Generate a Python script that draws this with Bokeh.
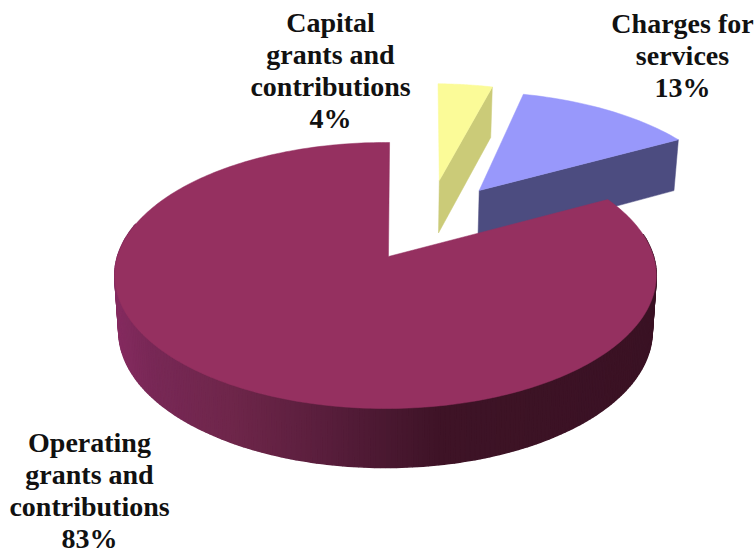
import math

from bokeh.core.properties import value
from bokeh.embed import file_html
from bokeh.models import ColumnDataSource, Range1d
from bokeh.plotting import figure
from bokeh.resources import INLINE

# Revenue shares, clockwise from twelve o'clock
categories = ["Capital grants and contributions", "Charges for services", "Operating grants and contributions"]
shares = [4, 13, 83]
label_lines = [
    ["Capital", "grants and", "contributions", "4%"],
    ["Charges for", "services", "13%"],
    ["Operating", "grants and", "contributions", "83%"],
]

# Styling of each slice: top face, cut face
top_colors = ["#fbfb98", "#9898fb", "#953060"]
cut_colors = ["#cbcb78", "#4c4c80", "#6b2347"]

# Position of each slice's arc centre on the pie plane, in pie radii, and its angular nudge in degrees
slice_offsets = [(0.219, 0.636), (0.377, 0.546), (0.0, 0.0)]
slice_nudge = [1.3, 0.0, 1.0]
# The large slice's inner corner sits slightly right of its arc centre
large_tip = (0.011, 0.0)

# Perspective projection of the pie plane onto the page
CX, CY = 385.0, 256.0
AX, BY, PERSP = 268.0, 130.3, 0.1429

# Label anchors: centre x and first baseline
label_x = [330, 682, 89]
label_y = [22, 23, 442]
LINE_STEP = 32

# Rim colour by page x for the shaded wall of the large slice
rim_stops = [
    (110, (0x86, 0x2b, 0x60)),
    (150, (0x78, 0x28, 0x56)),
    (230, (0x6e, 0x26, 0x4a)),
    (310, (0x5c, 0x1f, 0x3e)),
    (385, (0x4a, 0x18, 0x30)),
    (440, (0x3e, 0x13, 0x26)),
    (660, (0x3a, 0x12, 0x24)),
]


def project(u, v):
    w = 1 + PERSP * v
    return CX + AX * u / w, CY - BY * v / w


def project_low(u, v):
    # Same point on the underside of the pie
    x, y = project(u, v)
    drop = max(50.5, 55 - 4 * v)
    return CX + (x - CX) * 0.985, y + drop


def rim_color(x):
    for (x0, c0), (x1, c1) in zip(rim_stops, rim_stops[1:]):
        if x <= x1:
            t = max(0.0, (x - x0) / (x1 - x0))
            return "#%02x%02x%02x" % tuple(round(a + (b - a) * t) for a, b in zip(c0, c1))
    return "#%02x%02x%02x" % rim_stops[-1][1]


def on_rim(offset, deg):
    a = math.radians(deg)
    return offset[0] + math.sin(a), offset[1] + math.cos(a)


p = figure(
    width=756, height=556, output_backend="svg", toolbar_location=None,
    x_range=Range1d(0, 756), y_range=Range1d(556, 0),
    min_border=0, outline_line_color=None, background_fill_color="white",
)
p.axis.visible = False
p.grid.visible = False

total = sum(shares)
spans = []
start = 0.0
for s, nudge in zip(shares, slice_nudge):
    sweep = s / total * 360
    spans.append((start + nudge, start + nudge + sweep))
    start += sweep

# Exploded small slices: cut face on the front-facing edge, then the top face
for i in (0, 1):
    off = slice_offsets[i]
    a0, a1 = spans[i]
    tip = off
    end = on_rim(off, a1)
    pts = [project(*tip), project(*end), project_low(*end), project_low(*tip)]
    p.patch([q[0] for q in pts], [q[1] for q in pts], fill_color=cut_colors[i], line_color=cut_colors[i], line_width=0.5)
    rim = [on_rim(off, a0 + (a1 - a0) * k / 30) for k in range(31)]
    pts = [project(*tip)] + [project(*q) for q in rim]
    p.patch([q[0] for q in pts], [q[1] for q in pts], fill_color=top_colors[i], line_color=top_colors[i], line_width=0.5)

# Wall of the large slice, drawn as narrow shaded strips along its front half
off = slice_offsets[2]
a0, a1 = spans[2]
xs, ys, fills = [], [], []
d0 = max(a0, 80.0)
d1 = min(a1, 285.0)
steps = int(d1 - d0)
for k in range(steps):
    t0 = d0 + (d1 - d0) * k / steps
    t1 = d0 + (d1 - d0) * (k + 1) / steps
    q0, q1 = on_rim(off, t0), on_rim(off, t1)
    quad = [project(*q0), project(*q1), project_low(*q1), project_low(*q0)]
    xs.append([q[0] for q in quad])
    ys.append([q[1] for q in quad])
    fills.append(rim_color((quad[0][0] + quad[1][0]) / 2))
p.patches(
    "xs", "ys", source=ColumnDataSource(dict(xs=xs, ys=ys, fill=fills)),
    fill_color="fill", line_color="fill", line_width=1.5,
)

# Top face of the large slice
rim = [on_rim(off, a0 + (a1 - a0) * k / 300) for k in range(301)]
pts = [project(*large_tip)] + [project(*q) for q in rim]
p.patch([q[0] for q in pts], [q[1] for q in pts], fill_color=top_colors[2], line_color=top_colors[2], line_width=0.5)

# Labels, one row per line of text
tx, ty, tt = [], [], []
for lines, lx, ly in zip(label_lines, label_x, label_y):
    for n, line in enumerate(lines):
        tx.append(lx)
        ty.append(ly + n * LINE_STEP)
        tt.append(line)
p.text(
    "x", "y", text="t", source=ColumnDataSource(dict(x=tx, y=ty, t=tt)),
    text_font=value("Liberation Serif"), text_font_style="bold", text_font_size="28px",
    text_align="center", text_baseline="alphabetic", text_color="#111111",
)

open("out.html", "w").write(file_html(p, INLINE))
